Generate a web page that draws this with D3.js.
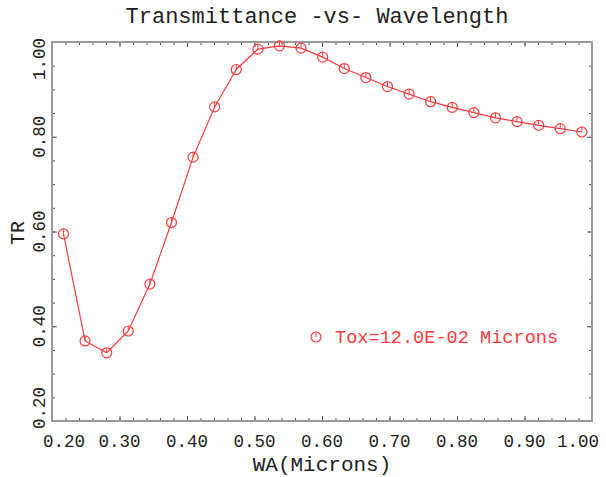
<!DOCTYPE html>
<html>
<head>
<meta charset="utf-8">
<script src="https://cdn.jsdelivr.net/npm/d3@7"></script>
<style>
  body { margin: 0; background: #fff; }
  svg { display: block; }
  text { font-family: "Liberation Mono", "DejaVu Sans Mono", monospace; }
</style>
</head>
<body>
<div id="chart"></div>
<script>
// ----------------------------------------------- //
// Data
var wavelength = [0.217, 0.249, 0.281, 0.313, 0.345, 0.377, 0.409, 0.441, 0.473,
    0.505, 0.537, 0.569, 0.601, 0.633, 0.665, 0.697, 0.729, 0.761, 0.793,
    0.825, 0.857, 0.889, 0.921, 0.953, 0.985];
var transmittance = [0.595, 0.369, 0.344, 0.390, 0.489, 0.619, 0.757, 0.863, 0.942,
    0.985, 0.992, 0.987, 0.968, 0.944, 0.925, 0.906, 0.890, 0.874, 0.862,
    0.851, 0.840, 0.832, 0.824, 0.817, 0.810];

var xMajorTicks = [0.2, 0.3, 0.4, 0.5, 0.6, 0.7, 0.8, 0.9, 1.0];
var yMajorTicks = [0.2, 0.4, 0.6, 0.8, 1.0];
var seriesLabel = "Tox=12.0E-02 Microns";

// ----------------------------------------------- //
// Sizes
var svgWidth = 606;
var svgHeight = 477;
var margin = { top: 42, right: 14, bottom: 56, left: 52 };
var red = "#ff3b3b";
var frameColor = "#9a9a9a";

var svg = d3.select("#chart")
    .append("svg")
    .attr("width", svgWidth)
    .attr("height", svgHeight);

var x = d3.scaleLinear()
    .domain([0.2, 1.0])
    .range([margin.left, svgWidth - margin.right]);

var y = d3.scaleLinear()
    .domain([0.2, 1.0])
    .range([svgHeight - margin.bottom, margin.top]);

var points = wavelength.map(function(w, i) {
    return { wa: w, tr: transmittance[i] };
});

// ----------------------------------------------- //
// Inward ticks on all four sides
function tickAxis(axis, transform, values, size) {
    svg.append("g")
        .attr("transform", transform)
        .call(axis.tickValues(values).tickSize(size).tickFormat(""))
        .call(function(g) {
            g.select(".domain").remove();
            g.selectAll("line").attr("stroke", "#555").attr("stroke-width", 1);
        });
}

var xMinor = x.ticks(40);
var yMinor = y.ticks(16);

tickAxis(d3.axisBottom(x), `translate(0,${y(0.2)})`, xMinor, -3);
tickAxis(d3.axisBottom(x), `translate(0,${y(0.2)})`, xMajorTicks, -5);
tickAxis(d3.axisTop(x), `translate(0,${y(1.0)})`, xMinor, -3);
tickAxis(d3.axisTop(x), `translate(0,${y(1.0)})`, xMajorTicks, -5);
tickAxis(d3.axisLeft(y), `translate(${x(0.2)},0)`, yMinor, -3);
tickAxis(d3.axisLeft(y), `translate(${x(0.2)},0)`, yMajorTicks, -5);
tickAxis(d3.axisRight(y), `translate(${x(1.0)},0)`, yMinor, -3);
tickAxis(d3.axisRight(y), `translate(${x(1.0)},0)`, yMajorTicks, -5);

// Frame
svg.append("rect")
    .attr("x", x(0.2))
    .attr("y", y(1.0))
    .attr("width", x(1.0) - x(0.2))
    .attr("height", y(0.2) - y(1.0))
    .attr("fill", "none")
    .attr("stroke", frameColor)
    .attr("stroke-width", 2);

// ----------------------------------------------- //
// Tick labels (end labels pushed inside like the original)
svg.append("g").selectAll("text")
    .data(xMajorTicks)
    .enter()
    .append("text")
    .attr("x", function(d, i) {
        if (i === 0) return 43;
        if (i === xMajorTicks.length - 1) return 599;
        return x(d);
    })
    .attr("y", 447)
    .attr("text-anchor", function(d, i) {
        if (i === 0) return "start";
        if (i === xMajorTicks.length - 1) return "end";
        return "middle";
    })
    .attr("font-size", 17.5)
    .attr("fill", "#222")
    .text(d => d.toFixed(2));

svg.append("g").selectAll("text")
    .data(yMajorTicks)
    .enter()
    .append("text")
    .attr("transform", function(d, i) {
        var py = y(d);
        if (i === 0) py = 429;
        if (i === yMajorTicks.length - 1) py = 38;
        return `translate(45,${py}) rotate(-90)`;
    })
    .attr("text-anchor", function(d, i) {
        if (i === 0) return "start";
        if (i === yMajorTicks.length - 1) return "end";
        return "middle";
    })
    .attr("font-size", 17.5)
    .attr("fill", "#222")
    .text(d => d.toFixed(2));

// Titles
svg.append("text")
    .attr("x", 317)
    .attr("y", 23)
    .attr("text-anchor", "middle")
    .attr("font-size", 22)
    .attr("fill", "#222")
    .text("Transmittance -vs- Wavelength");

svg.append("text")
    .attr("x", 322)
    .attr("y", 471)
    .attr("text-anchor", "middle")
    .attr("font-size", 21)
    .attr("fill", "#222")
    .text("WA(Microns)");

svg.append("text")
    .attr("transform", "translate(24,233) rotate(-90)")
    .attr("text-anchor", "middle")
    .attr("font-size", 20)
    .attr("fill", "#222")
    .text("TR");

// ----------------------------------------------- //
// Series line and markers
var line = d3.line()
    .x(d => x(d.wa))
    .y(d => y(d.tr));

svg.append("path")
    .datum(points)
    .attr("d", line)
    .attr("fill", "none")
    .attr("stroke", red)
    .attr("stroke-width", 1.2);

function drawMarker(g) {
    g.append("circle")
        .attr("r", 5)
        .attr("fill", "none")
        .attr("stroke", red)
        .attr("stroke-width", 1.2);
    g.append("line")
        .attr("x1", 0).attr("x2", 0)
        .attr("y1", -5).attr("y2", 0)
        .attr("stroke", red)
        .attr("stroke-width", 1);
}

svg.append("g").selectAll("g")
    .data(points)
    .enter()
    .append("g")
    .attr("transform", d => `translate(${x(d.wa)},${y(d.tr)})`)
    .call(drawMarker);

// Legend
var legend = svg.append("g")
    .attr("transform", "translate(316,337)");
legend.call(drawMarker);
legend.append("text")
    .attr("x", 19)
    .attr("y", 6)
    .attr("font-size", 18.6)
    .attr("fill", red)
    .text(seriesLabel);
</script>
</body>
</html>
